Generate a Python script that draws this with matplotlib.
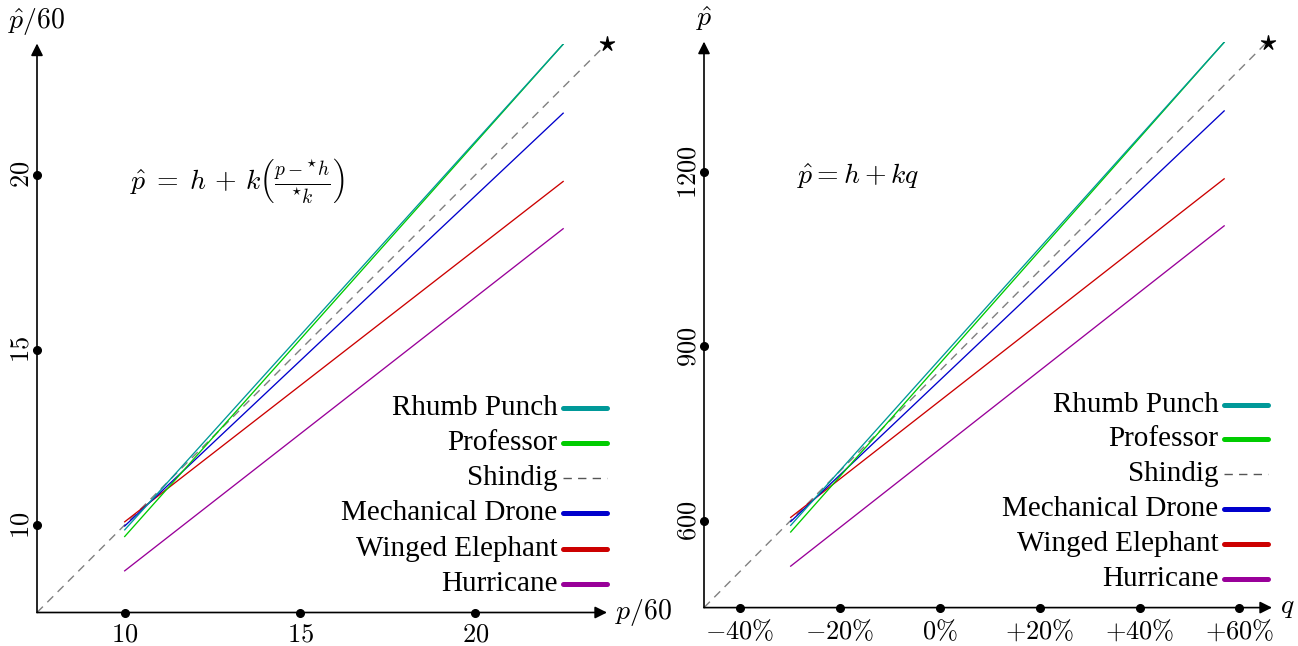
import matplotlib
matplotlib.use('Agg')
import matplotlib.pyplot as plt

plt.rcParams['mathtext.fontset'] = 'cm'
plt.rcParams['font.family'] = ['Liberation Serif', 'DejaVu Serif']

# ---------------- data ----------------
names = ['Rhumb Punch', 'Professor', 'Shindig', 'Mechanical Drone',
         'Winged Elephant', 'Hurricane']
colors = ['#009999', '#00cc00', '#808080', '#0000cc', '#cc0000', '#990099']
# p/60 range of the price lines
p_start, p_end = 10.0, 22.5
# p-hat/60 at the start and the end of each line (Shindig = identity)
hat_start = [9.86, 9.67, None, 9.97, 10.09, 8.69]
hat_end = [23.73, 23.73, None, 21.76, 19.81, 18.46]
axis_min = 7.5      # p/60 at origin
star_val = 23.75    # p/60 at the star
star_h = 858.0      # *h
star_k = 864.0      # *k

left_xticks = [10, 15, 20]
left_yticks = [10, 15, 20]
right_xticks = [-40, -20, 0, 20, 40, 60]
right_xticklabels = [r'$-40\%$', r'$-20\%$', r'$0\%$', r'$+20\%$', r'$+40\%$', r'$+60\%$']
right_yticks = [600, 900, 1200]
legend_rows = [13.33, 12.33, 11.33, 10.33, 9.32, 8.32]  # p-hat/60


def q_of(x60):
    return (x60 * 60.0 - star_h) / star_k * 100.0


W, H = 1298, 646
fig = plt.figure(figsize=(W / 100, H / 100), dpi=100)

ax1 = fig.add_axes([37 / W, (H - 612.5) / H, 570 / W, 569 / H])
ax2 = fig.add_axes([704 / W, (H - 607.6) / H, 568 / W, 566 / H])

ax1.set_xlim(axis_min, star_val)
ax1.set_ylim(axis_min, star_val)
ax2.set_xlim(q_of(axis_min), q_of(star_val) + 0.9)
ax2.set_ylim(axis_min * 60, star_val * 60)

TICK_FS = 19
LEG_FS = 21
lw_line = 0.95
lw_leg = 3.6

for ax, xfun, yscale in [(ax1, lambda v: v, 1.0), (ax2, q_of, 60.0)]:
    for sp in ax.spines.values():
        sp.set_visible(False)
    ax.patch.set_alpha(0)
    x0, x1 = ax.get_xlim()
    y0, y1 = ax.get_ylim()
    # axis arrows
    ax.annotate('', xy=(x1, y0), xytext=(x0, y0), xycoords='data',
                arrowprops=dict(arrowstyle='-|>', color='black', lw=1.2,
                                mutation_scale=18, shrinkA=0, shrinkB=0),
                annotation_clip=False)
    ax.annotate('', xy=(x0, y1), xytext=(x0, y0), xycoords='data',
                arrowprops=dict(arrowstyle='-|>', color='black', lw=1.2,
                                mutation_scale=18, shrinkA=0, shrinkB=0),
                annotation_clip=False)
    # shindig identity line
    ax.plot([xfun(axis_min), xfun(star_val)], [axis_min * yscale, star_val * yscale],
            color=colors[2], lw=1.0, dashes=(6, 4.5), zorder=2)
    ax.plot([xfun(star_val)], [star_val * yscale], marker=r'$\star$', color='black',
            markersize=10, clip_on=False, zorder=5)
    # series lines
    order = [5, 4, 3, 1, 0]
    for i in order:
        ax.plot([xfun(p_start), xfun(p_end)], [hat_start[i] * yscale, hat_end[i] * yscale],
                color=colors[i], lw=lw_line, zorder=3)
    # legend
    lx0, lx1 = xfun(p_end), xfun(star_val)
    for i, name in enumerate(names):
        yy = legend_rows[i] * yscale
        if i == 2:
            ax.plot([lx0, lx1], [yy, yy], color='#555555', lw=1.0, dashes=(6, 4.5),
                    clip_on=False)
        else:
            ax.plot([lx0, lx1], [yy, yy], color=colors[i], lw=lw_leg,
                    solid_capstyle='round', clip_on=False)
        ax.annotate(name, xy=(lx0, yy), xytext=(-4, 0), textcoords='offset points',
                    ha='right', va='center', fontsize=LEG_FS)
    ax.tick_params(length=0)

# ticks, left
ax1.set_xticks(left_xticks)
ax1.set_xticklabels([r'$%d$' % v for v in left_xticks], fontsize=TICK_FS)
ax1.set_yticks(left_yticks)
ax1.set_yticklabels([r'$%d$' % v for v in left_yticks], fontsize=TICK_FS, rotation=90,
                    va='center')
ax1.tick_params(axis='x', pad=8.5)
ax1.tick_params(axis='y', pad=2.5)
ax1.plot(left_xticks, [axis_min] * len(left_xticks), 'o', color='black', ms=5.5,
         clip_on=False, zorder=6)
ax1.plot([axis_min] * len(left_yticks), left_yticks, 'o', color='black', ms=5.5,
         clip_on=False, zorder=6)

# ticks, right
ax2.set_xticks(right_xticks)
ax2.set_xticklabels(right_xticklabels, fontsize=TICK_FS)
ax2.set_yticks(right_yticks)
ax2.set_yticklabels([r'$%d$' % v for v in right_yticks], fontsize=TICK_FS, rotation=90,
                    va='center')
ax2.tick_params(axis='x', pad=7.5)
ax2.tick_params(axis='y', pad=2.5)
ax2.plot(right_xticks, [axis_min * 60] * len(right_xticks), 'o', color='black', ms=5.5,
         clip_on=False, zorder=6)
ax2.plot([q_of(axis_min)] * len(right_yticks), right_yticks, 'o', color='black', ms=5.5,
         clip_on=False, zorder=6)

# axis labels
ax1.annotate(r'$\hat{p}/60$', xy=(axis_min, star_val), xytext=(0, 11),
             textcoords='offset points', ha='center', va='baseline', fontsize=20,
             annotation_clip=False)
ax1.annotate(r'$p/60$', xy=(star_val, axis_min), xytext=(6, 0),
             textcoords='offset points', ha='left', va='center', fontsize=20,
             annotation_clip=False)
x0r, x1r = ax2.get_xlim()
ax2.annotate(r'$\hat{p}$', xy=(x0r, star_val * 60), xytext=(0, 11),
             textcoords='offset points', ha='center', va='baseline', fontsize=20,
             annotation_clip=False)
ax2.annotate(r'$q$', xy=(x1r, axis_min * 60), xytext=(6, 0),
             textcoords='offset points', ha='left', va='center', fontsize=20,
             annotation_clip=False)

# formulas
ax1.text(10.15, 19.85,
         r'$\hat{p} \;=\; h \,+\, k\left(\frac{p - {}^{\star}h}{{}^{\star}k}\right)$',
         ha='left', va='center', fontsize=20)
ax2.text(-28.6, 1195, r'$\hat{p} = h + kq$', ha='left', va='center', fontsize=20)

fig.savefig('out.png', dpi=100)
